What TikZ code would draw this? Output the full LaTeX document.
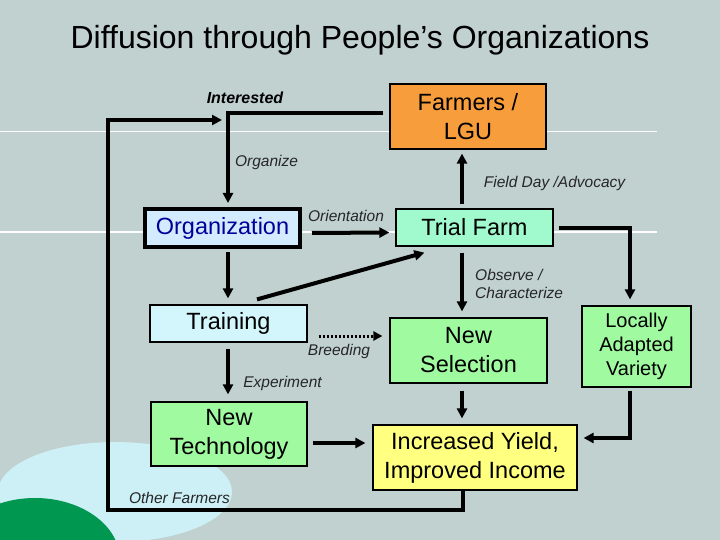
\documentclass[tikz,border=0pt]{standalone}
\usepackage{fontspec}
\setmainfont{Liberation Sans}
\usetikzlibrary{arrows.meta,calc}
\definecolor{bgc}{RGB}{192,209,207}
\definecolor{orangec}{RGB}{247,157,60}
\definecolor{mintc}{RGB}{160,250,205}
\definecolor{greenc}{RGB}{160,250,160}
\definecolor{yellowc}{RGB}{255,255,128}
\definecolor{orgc}{RGB}{210,235,255}
\definecolor{trainc}{RGB}{210,246,252}
\definecolor{cyanc}{RGB}{204,240,246}
\definecolor{dgreenc}{RGB}{0,152,80}
\definecolor{navyc}{RGB}{0,0,150}
\tikzset{
  box/.style={draw=black, line width=1.2pt, inner sep=0pt, align=center, font=\fontsize{23.5}{29}\selectfont},
  lbl/.style={font=\fontsize{15.5}{18}\selectfont\itshape, inner sep=0pt, text=black!85},
  arr/.style={line width=4pt, -{Triangle[length=10pt,width=10pt]}},
  ln/.style={line width=4pt},
}
\begin{document}
\begin{tikzpicture}[x=1pt,y=-1pt]
\useasboundingbox (0,0) rectangle (720,540);
\fill[bgc] (0,0) rectangle (720,540);
\fill[cyanc] (115,492) ellipse [x radius=117, y radius=50];
\fill[dgreenc] (35,560) ellipse [x radius=85, y radius=62];
\draw[white, line width=1pt] (0,132) -- (657,132);
\draw[white, line width=1pt] (0,232) -- (657,232);

\node[font=\fontsize{32}{36}\selectfont, inner sep=0pt] (title) at (360,40) {Diffusion through People’s Organizations};

\node[box, fill=orangec, minimum width=156pt, minimum height=65pt] (farm) at (468,116.5) {Farmers /\\LGU};
\node[box, fill=orgc, line width=4pt, minimum width=155pt, minimum height=38pt, text=navyc] (org) at (222.5,228) {Organization};
\node[box, fill=mintc, minimum width=157pt, minimum height=37pt] (trial) at (474.5,227.5) {Trial Farm};
\node[box, fill=trainc, minimum width=157pt, minimum height=37pt] (train) at (228.5,323.5) {Training};
\node[box, fill=greenc, minimum width=157pt, minimum height=65pt] (nsel) at (468.5,350.5) {New\\Selection};
\node[box, fill=greenc, minimum width=109pt, minimum height=81pt, font=\fontsize{20}{24}\selectfont] (loc) at (636.5,346.5) {Locally\\Adapted\\Variety};
\node[box, fill=greenc, minimum width=156pt, minimum height=64pt] (ntech) at (229,434) {New\\Technology};
\node[box, fill=yellowc, minimum width=204pt, minimum height=65pt] (inc) at (475,457.5) {Increased Yield,\\Improved Income};

\node[lbl, font=\fontsize{16}{18}\selectfont\bfseries\itshape, text=black] (linterested) at (245,98) {Interested};
\node[lbl] (lorganize) at (266.5,162) {Organize};
\node[lbl] (lfield) at (554.5,183) {Field Day /Advocacy};
\node[lbl] (lorient) at (346,216) {Orientation};
\node[lbl, align=left, anchor=west, font=\fontsize{15.5}{18.5}\selectfont\itshape] (lobserve) at (475,284) {Observe /\\Characterize};
\node[lbl] (lbreed) at (339,351) {Breeding};
\node[lbl] (lexp) at (282.5,383) {Experiment};
\node[lbl] (lother) at (179.5,498) {Other Farmers};

% coordinates
\coordinate (c1) at (228,113);
\coordinate (l1) at (463,510);
\coordinate (l2) at (108,510);
\coordinate (l3) at (108,120);
\coordinate (l4) at (222,120);
\coordinate (c5) at (630,228);
\coordinate (c6) at (630,438);

% Farmers -> Organization
\draw[arr] ([xshift=-6pt,yshift=3.5pt]farm.west) -- (c1) -- ([yshift=4pt]org.north -| c1);
% feedback loop
\draw[arr] (inc.south -| l1) -- (l1) -- (l2) -- (l3) -- (l4);
% Orientation
\draw[arr] ([xshift=10pt,yshift=-5pt]org.east) -- ([xshift=-6pt,yshift=-5pt]trial.west);
% Field day
\draw[arr] ([xshift=-12.5pt,yshift=4pt]trial.north) -- ([xshift=-12.5pt,yshift=-4pt]trial.north |- farm.south);
% Trial -> Locally
\draw[arr] ([xshift=5pt,yshift=-0.5pt]trial.east) -- (c5) -- ([yshift=6pt]c5 |- loc.north);
% Locally -> Increased
\draw[arr] ([yshift=-3pt]c5 |- loc.south) -- (c6) -- ([xshift=6pt]c6 -| inc.east);
% Observe
\draw[arr] ([xshift=-12.5pt,yshift=-6pt]trial.south) -- ([xshift=-6.5pt,yshift=6pt]nsel.north);
% diagonal Training -> Trial
\draw[arr] ([xshift=28.5pt,yshift=5pt]train.north) -- ([xshift=29pt,yshift=-6pt]trial.south west);
% Org -> Training
\draw[arr] ([xshift=5.5pt,yshift=-3pt]org.south) -- ([xshift=-0.5pt,yshift=6pt]train.north);
% Breeding dotted
\draw[line width=3pt, dash pattern=on 2pt off 2pt, -{Triangle[length=9pt,width=9pt]}] ([xshift=11pt,yshift=-12.5pt]train.east) -- ([xshift=-7pt,yshift=-12.5pt]train.east -| nsel.west);
% Training -> New Technology
\draw[arr] ([xshift=-0.5pt,yshift=-6pt]train.south) -- ([xshift=-1pt,yshift=7pt]ntech.north);
% New Selection -> Increased
\draw[arr] ([xshift=-6.5pt,yshift=-7pt]nsel.south) -- ([xshift=-13pt,yshift=6pt]inc.north);
% New Technology -> Increased
\draw[arr] ([xshift=5pt,yshift=-9pt]ntech.east) -- ([xshift=-7pt,yshift=14.5pt]inc.west);
\end{tikzpicture}
\end{document}
